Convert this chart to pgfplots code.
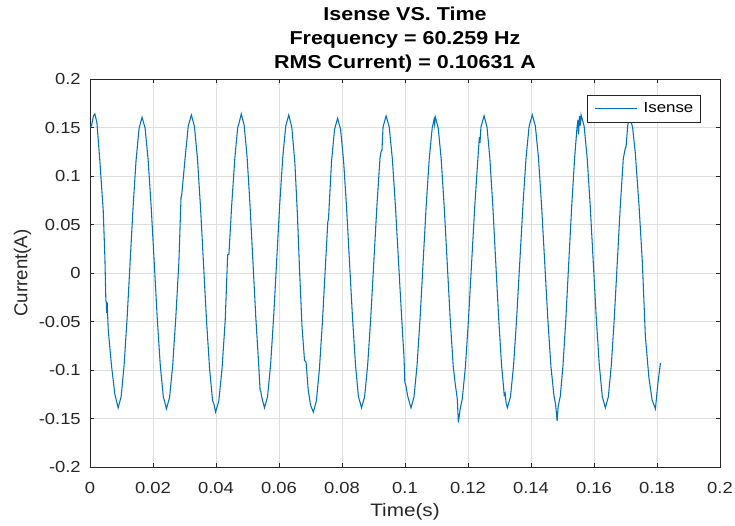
\documentclass[border=0pt]{standalone}
\usepackage{pgfplots}
\pgfplotsset{compat=1.18}
\usepackage{fontspec}
\setmainfont{Liberation Sans}[FakeStretch=1.15]
\newfontfamily\ylfont{Liberation Sans}
\definecolor{axisgray}{HTML}{262626}
\definecolor{gridgray}{HTML}{DFDFDF}
\definecolor{matblue}{HTML}{0072BD}
\begin{document}
\begin{tikzpicture}
\begin{axis}[
  name=ax,
  scale only axis,
  width=472.5pt, height=291pt,
  xmin=0, xmax=0.2, ymin=-0.2, ymax=0.2,
  xtick={0,0.02,...,0.2001},
  ytick={-0.2,-0.15,...,0.2001},
  grid=major,
  major grid style={draw=gridgray, line width=0.5pt},
  axis line style={draw=axisgray, line width=0.6pt},
  tick style={draw=axisgray, line width=0.5pt},
  major tick length=3pt,
  tick align=inside,
  /pgf/number format/assume math mode=true,
  /pgf/number format/fixed,
  /pgf/number format/precision=3,
  ticklabel style={font=\fontsize{12}{14}\selectfont, text=axisgray},
  xticklabel style={anchor=north, inner sep=0pt, yshift=-11.25pt},
  yticklabel style={anchor=east, inner sep=0pt, xshift=-6.75pt},
  xlabel={Time(s)},
  xlabel style={at={(axis description cs:0.5,0)}, anchor=north, inner sep=0pt, yshift=-27.3pt, font=\fontsize{13.5}{16}\selectfont, text=axisgray},
  ylabel={Current(A)},
  ylabel style={at={(axis description cs:-0.1069,0.5)}, anchor=center, inner sep=0pt, font=\ylfont\fontsize{14}{16}\selectfont, text=axisgray},
  title={Isense VS. Time\\Frequency = 60.259 Hz\\RMS Current) = 0.10631 A},
  title style={at={(axis description cs:0.5,1)}, anchor=south, inner sep=0pt, yshift=-1.5pt, align=center, font=\fontsize{14}{18}\selectfont\bfseries},
  legend style={at={(1,1)}, anchor=north east, xshift=-14.25pt, yshift=-12pt, draw=axisgray, line width=0.5pt, fill=white, inner xsep=5.5pt, inner ysep=5.5pt, font=\fontsize{11}{13}\selectfont, column sep=4.5pt, nodes={inner sep=0pt, anchor=west}},
  legend image code/.code={\draw[#1] (0pt,0pt) -- (31.5pt,0pt);},
]
\addplot[color=matblue, line width=0.8pt, no markers] coordinates {
(0,0.150) (0.0005,0.152) (0.0011,0.162) (0.00155,0.164)
(0.0022,0.155) (0.00314,0.115) (0.00419,0.065) (0.00472,0.017) (0.00504,-0.029)
(0.00522,-0.030) (0.00526,-0.041) (0.00545,-0.030) (0.00577,-0.058) (0.00684,-0.096)
(0.00789,-0.125) (0.00893,-0.139)
(0.00988,-0.1276) (0.01083,-0.0951) (0.01178,-0.0466) (0.01273,0.0108) (0.01368,0.0681)
(0.01463,0.1166) (0.01558,0.1491) (0.01653,0.1605)
(0.0175,0.1491) (0.01846,0.1165) (0.01943,0.0678) (0.0204,0.0103) (0.02136,-0.0473)
(0.02233,-0.096) (0.02329,-0.128) (0.02375,-0.133) (0.02385,-0.1345) (0.02426,-0.140)
(0.02525,-0.1285) (0.02624,-0.0956) (0.02723,-0.0465) (0.02822,0.0115) (0.0289,0.078)
(0.0291,0.080) (0.0302,0.1186) (0.03119,0.1515) (0.03218,0.163)
(0.03314,0.1513) (0.03411,0.1181) (0.03507,0.0685) (0.03603,0.0098) (0.03699,-0.0489)
(0.03796,-0.0985) (0.03892,-0.1317) (0.0393,-0.1345) (0.03988,-0.1434)
(0.0409,-0.1317) (0.04192,-0.0984) (0.04293,-0.0486) (0.0437,0.0188) (0.0441,0.0192)
(0.04497,0.0692) (0.04599,0.119) (0.0469,0.150) (0.0472,0.153) (0.04802,0.164)
(0.04894,0.1525) (0.04987,0.1196) (0.05079,0.0705) (0.05171,0.0125) (0.05263,-0.0455)
(0.05356,-0.0946) (0.0540,-0.121) (0.0542,-0.122) (0.05448,-0.1275) (0.0554,-0.139)
(0.05636,-0.1275) (0.05733,-0.0948) (0.05829,-0.0458) (0.05925,0.012) (0.06021,0.0698)
(0.06118,0.1188) (0.06214,0.1515) (0.0631,0.163)
(0.06408,0.150) (0.06505,0.113) (0.06585,0.060) (0.0665,0.005) (0.0673,-0.055)
(0.0681,-0.090) (0.0686,-0.092) (0.06925,-0.120) (0.0700,-0.136) (0.0709,-0.1434)
(0.07186,-0.1319) (0.07283,-0.0991) (0.07379,-0.050) (0.07475,0.0081) (0.0755,0.053)
(0.0757,0.055) (0.07668,0.1152) (0.07764,0.148) (0.0786,0.1595)
(0.07955,0.1482) (0.0805,0.1158) (0.08145,0.0674) (0.0824,0.0103) (0.08335,-0.0469)
(0.0843,-0.0953) (0.0852,-0.127) (0.0855,-0.131) (0.0857,-0.133) (0.0862,-0.139)
(0.08718,-0.1276) (0.08815,-0.0949) (0.08913,-0.0461) (0.0901,0.0115) (0.09108,0.0691)
(0.09205,0.1179) (0.0924,0.125) (0.0927,0.127) (0.09303,0.1506) (0.094,0.162)
(0.09499,0.1506) (0.09598,0.1179) (0.09696,0.0691) (0.09795,0.0115) (0.09894,-0.0461)
(0.0997,-0.088) (0.09995,-0.113) (0.1002,-0.115) (0.10091,-0.1276) (0.1019,-0.139)
(0.10286,-0.1276) (0.10383,-0.0951) (0.10479,-0.0465) (0.10575,0.011) (0.10671,0.0685)
(0.10768,0.1171) (0.10864,0.1496) (0.1092,0.158) (0.1094,0.153) (0.1096,0.161)
(0.11055,0.1496) (0.1115,0.1169) (0.11245,0.0681) (0.1134,0.0105) (0.11435,-0.0471)
(0.1153,-0.0959) (0.1159,-0.113) (0.1166,-0.130) (0.11695,-0.1543) (0.1175,-0.1406)
(0.11819,-0.1295) (0.11918,-0.0966) (0.12016,-0.0475) (0.12115,0.0105) (0.12214,0.0685)
(0.12313,0.1176) (0.1236,0.140) (0.1238,0.134) (0.12411,0.1505) (0.1251,0.162)
(0.12603,0.1506) (0.12695,0.1179) (0.12788,0.0691) (0.1288,0.0115) (0.12973,-0.0461)
(0.13065,-0.0949) (0.1313,-0.118) (0.1315,-0.126) (0.1318,-0.124) (0.1321,-0.134) (0.1325,-0.139)
(0.13349,-0.1275) (0.13448,-0.0948) (0.13546,-0.0458) (0.13645,0.012) (0.13744,0.0698)
(0.13843,0.1188) (0.13941,0.1515) (0.1404,0.163)
(0.14139,0.1514) (0.14238,0.1185) (0.14336,0.0692) (0.14435,0.011) (0.14534,-0.0472)
(0.14633,-0.0965) (0.1473,-0.127) (0.1478,-0.135) (0.1483,-0.1527) (0.1486,-0.138)
(0.1493,-0.127) (0.15015,-0.0956) (0.15108,-0.0465) (0.152,0.0115) (0.15293,0.0695)
(0.15385,0.1186) (0.1546,0.150) (0.1549,0.158) (0.1551,0.143) (0.1554,0.162) (0.1557,0.152) (0.1559,0.163)
(0.15686,0.1515) (0.15783,0.1188) (0.15879,0.0698) (0.15975,0.012) (0.16071,-0.0458)
(0.16168,-0.0948) (0.16264,-0.1275) (0.1636,-0.139)
(0.16455,-0.1276) (0.1655,-0.0949) (0.16645,-0.0461) (0.1674,0.0115) (0.16835,0.0691)
(0.1693,0.1179) (0.1699,0.128) (0.1702,0.131) (0.1707,0.152) (0.1712,0.162)
(0.17224,0.1505) (0.1731,0.124) (0.17431,0.0688) (0.17535,0.011) (0.1763,-0.065)
(0.17743,-0.108) (0.17846,-0.131) (0.1795,-0.140) (0.1803,-0.113) (0.1811,-0.0926)
};
\addlegendentry{Isense}
\end{axis}
\pgfresetboundingbox
\path (ax.south west) +(-67.5pt,-43.5pt) (ax.north east) +(11.25pt,59.25pt);
\end{tikzpicture}
\end{document}
